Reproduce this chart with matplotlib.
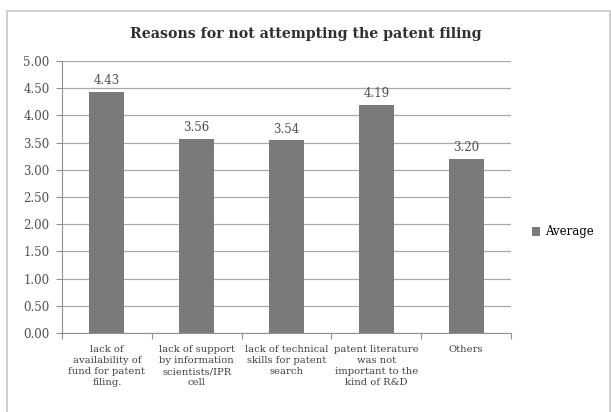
import matplotlib.pyplot as plt
from matplotlib.patches import Rectangle

categories = [
    "lack of\navailability of\nfund for patent\nfiling.",
    "lack of support\nby information\nscientists/IPR\ncell",
    "lack of technical\nskills for patent\nsearch",
    "patent literature\nwas not\nimportant to the\nkind of R&D",
    "Others",
]
values = [4.43, 3.56, 3.54, 4.19, 3.20]
yticks = [0.0, 0.5, 1.0, 1.5, 2.0, 2.5, 3.0, 3.5, 4.0, 4.5, 5.0]

plt.rcParams["font.family"] = ["DejaVu Serif"]

fig = plt.figure(figsize=(6.11, 4.12), dpi=100)
fig.patches.append(Rectangle((7.5 / 611, -0.05), 602 / 611, 1 - 11 / 412 + 0.05,
                             transform=fig.transFigure, fill=False,
                             edgecolor="#c8c8c8", linewidth=1.2))

ax = fig.add_axes([62 / 611, 1 - 333 / 412, 449 / 611, 272 / 412])
x = list(range(len(values)))
ax.bar(x, values, width=0.39, color="#7a7a7c", zorder=3, label="Average")

for xi, v in zip(x, values):
    ax.text(xi, v + 0.09, f"{v:.2f}", ha="center", va="bottom",
            fontsize=8.5, color="#505050")

ax.set_xlim(-0.5, len(values) - 0.5)
ax.set_ylim(0, 5)
ax.set_yticks(yticks)
ax.set_yticklabels([f"{t:.2f}" for t in yticks], fontsize=8.5, color="#505050")
ax.yaxis.grid(True, color="#a8a8a8", linewidth=0.9, zorder=0)
ax.set_xticks([i + 0.5 for i in range(-1, len(values))])
ax.set_xticklabels([])
ax.tick_params(axis="x", length=4, color="#909090")
ax.tick_params(axis="y", length=4, color="#909090", pad=5)
for i, c in enumerate(categories):
    ax.text(i, -0.22, c, ha="center", va="top", fontsize=7.2,
            color="#404040", linespacing=1.3)

for s in ["top", "right"]:
    ax.spines[s].set_visible(False)
ax.spines["left"].set_color("#909090")
ax.spines["bottom"].set_color("#909090")

fig.text(0.5, 1 - 34 / 412, "Reasons for not attempting the patent filing",
         ha="center", va="center", fontsize=10.2, fontweight="bold",
         color="#303030")

fig.legend(loc="center left", bbox_to_anchor=(521 / 611, 1 - 232 / 412),
           frameon=False, fontsize=8.5, handlelength=0.7, handleheight=0.7,
           handletextpad=0.4)

fig.savefig("out.png", dpi=100)
